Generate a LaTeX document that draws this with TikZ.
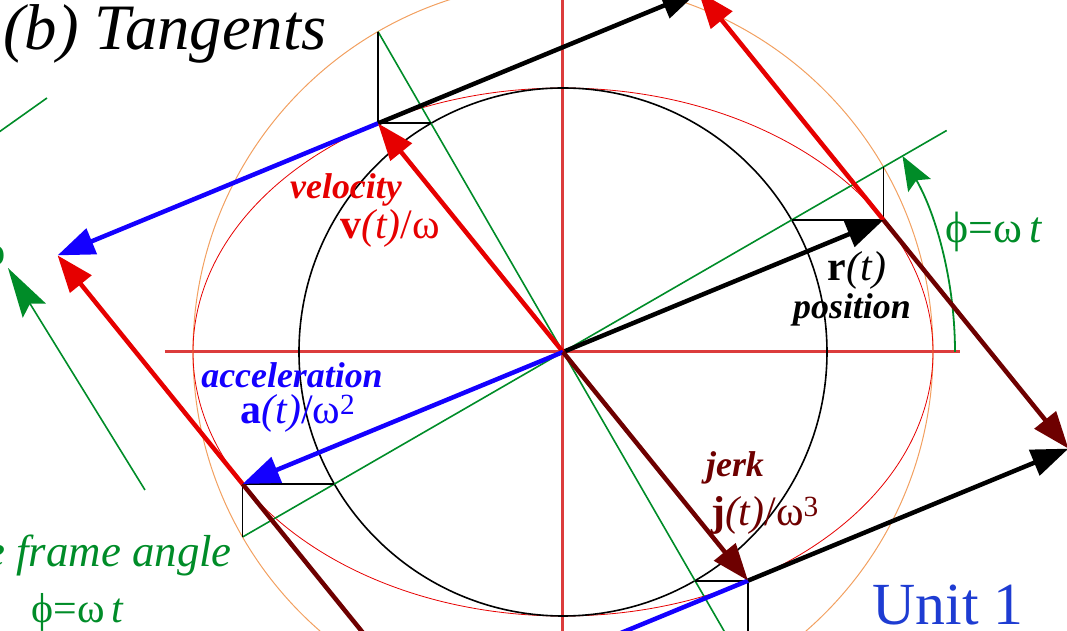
\documentclass[tikz,border=0pt]{standalone}
\usepackage{fontspec}
\setmainfont{Liberation Serif}[
  ItalicFont={Liberation Serif Italic},
  BoldFont={Liberation Serif Bold},
  BoldItalicFont={Liberation Serif Bold Italic}]
\usetikzlibrary{arrows.meta,calc}
\definecolor{vred}{HTML}{E60000}
\definecolor{vblue}{HTML}{1400FF}
\definecolor{vjerk}{HTML}{6E0000}
\definecolor{frame}{HTML}{008C28}
\definecolor{aux}{HTML}{F2A060}
\definecolor{axis}{HTML}{DC3C3C}
\definecolor{unit}{HTML}{1E3CD2}
\newcommand{\ea}{370}
\newcommand{\eb}{264}
\newcommand{\wordf}{\fontsize{36}{40}\selectfont\bfseries\itshape}
\newcommand{\namef}{\fontsize{42}{46}\selectfont}

\begin{document}
\begin{tikzpicture}[x=1bp,y=1bp,
  vec/.style={line width=4.5bp,-{Triangle[length=37bp,width=27bp]}},
  guide/.style={line width=1.8bp},
  lbl/.style={inner sep=0pt}]
  \useasboundingbox (-563,-279) rectangle (504,352);
  \coordinate (O) at (0,0);
  \foreach \k/\ang in {0/30,1/120,2/210,3/300} {
    \coordinate (P\k) at ({\ea*cos(\ang)},{\eb*sin(\ang)});
    \coordinate (A\k) at (\ang:\ea);
    \coordinate (B\k) at (\ang:\eb);
  }
  \coordinate (Q0) at ($(P0)+(P1)$);
  \coordinate (Q1) at ($(P0)+(P3)$);
  \coordinate (Q2) at ($(P2)+(P3)$);
  \coordinate (Q3) at ($(P1)+(P2)$);
  % axes
  \coordinate (xl) at (-398,0); \coordinate (xr) at (397,0);
  \coordinate (yb) at (0,-398); \coordinate (yt) at (0,398);
  \draw[axis,line width=3bp] (xl) -- (xr);
  \draw[axis,line width=3bp] (yb) -- (yt);
  % circles and ellipse
  \draw[aux,line width=1bp] (O) circle[radius=\ea];
  \draw[vred,line width=0.8bp] (O) ellipse[x radius=\ea,y radius=\eb];
  \draw[black,line width=1.6bp] (O) circle[radius=\eb];
  % rotating frame
  \coordinate (G0) at (30:443);
  \draw[frame,line width=1.6bp] (A2) -- (G0);
  \draw[frame,line width=1.6bp] (A1) -- (A3);
  \coordinate (arc0) at (392,0);
  \draw[frame,line width=1.8bp,-{Stealth[length=34bp,width=26bp,inset=6bp]}]
    (arc0) arc[start angle=0,end angle=30,radius=392];
  % eccentric construction
  \foreach \k in {0,1,2,3} {
    \draw[guide] (A\k) -- (P\k) -- (B\k);
  }
  % tangents at the four points
  \draw[vec,vred] (P0) -- (Q0);
  \draw[vec,vjerk] (P0) -- (Q1);
  \draw[vec,black] (P1) -- (Q0);
  \draw[vec,vblue] (P1) -- (Q3);
  \draw[vec,vred] (P2) -- (Q3);
  \draw[vec,vjerk] (P2) -- (Q2);
  \draw[vec,black] (P3) -- (Q1);
  \draw[vec,vblue] (P3) -- (Q2);
  % derivative vectors from the centre
  \draw[vec,black] (O) -- (P0);
  \draw[vec,vred] (O) -- (P1);
  \draw[vec,vblue] (O) -- (P2);
  \draw[vec,vjerk] (O) -- (P3);
  % left neighbour (cut off)
  \coordinate (L0) at (-578,210); \coordinate (L1) at (-516,254);
  \draw[frame,line width=1.6bp] (L0) -- (L1);
  \coordinate (L2) at (-418,-138); \coordinate (L3) at (-555,84);
  \draw[frame,line width=1.6bp,-{Stealth[length=50bp,width=27bp,inset=8bp]}] (L2) -- (L3);
  % labels
  \node[lbl,anchor=base west,font=\fontsize{65}{70}\selectfont\itshape] (title) at (-560,302) {(b) Tangents};
  \node[lbl,vred,font=\wordf] (vword) at (-217,162) {velocity};
  \node[lbl,vred,font=\namef] (vname) at (-173,124) {\textbf{v}\textit{(t)}/ω};
  \node[lbl,black,font=\namef] (rname) at (294,82) {\textbf{r}\textit{(t)}};
  \node[lbl,black,font=\wordf] (rword) at (289,42) {position};
  \node[lbl,vblue,font=\wordf] (aword) at (-271,-23) {acceleration};
  \node[lbl,vblue,font=\namef] (aname) at (-265,-61) {\textbf{a}\textit{(t)}/ω\textsuperscript{2}};
  \node[lbl,vjerk,font=\wordf] (jword) at (172,-116) {jerk};
  \node[lbl,vjerk,font=\namef] (jname) at (202,-163) {\textbf{j}\textit{(t)}/ω\textsuperscript{3}};
  \node[lbl,unit,font=\fontsize{60}{64}\selectfont] (unit) at (385,-253) {Unit 1};
  \node[lbl,frame,font=\fontsize{44}{48}\selectfont] (phi) at (431,120) {ϕ=ω\,\textit{t}};
  \node[lbl,frame,anchor=east,font=\fontsize{45}{50}\selectfont\itshape] (fword) at (-331,-203) {e frame angle};
  \node[lbl,frame,font=\namef] (phil) at (-485,-260) {ϕ=ω\,\textit{t}};
  \node[lbl,frame,font=\namef] (phic) at (-568,97) {ϕ};
\end{tikzpicture}
\end{document}
